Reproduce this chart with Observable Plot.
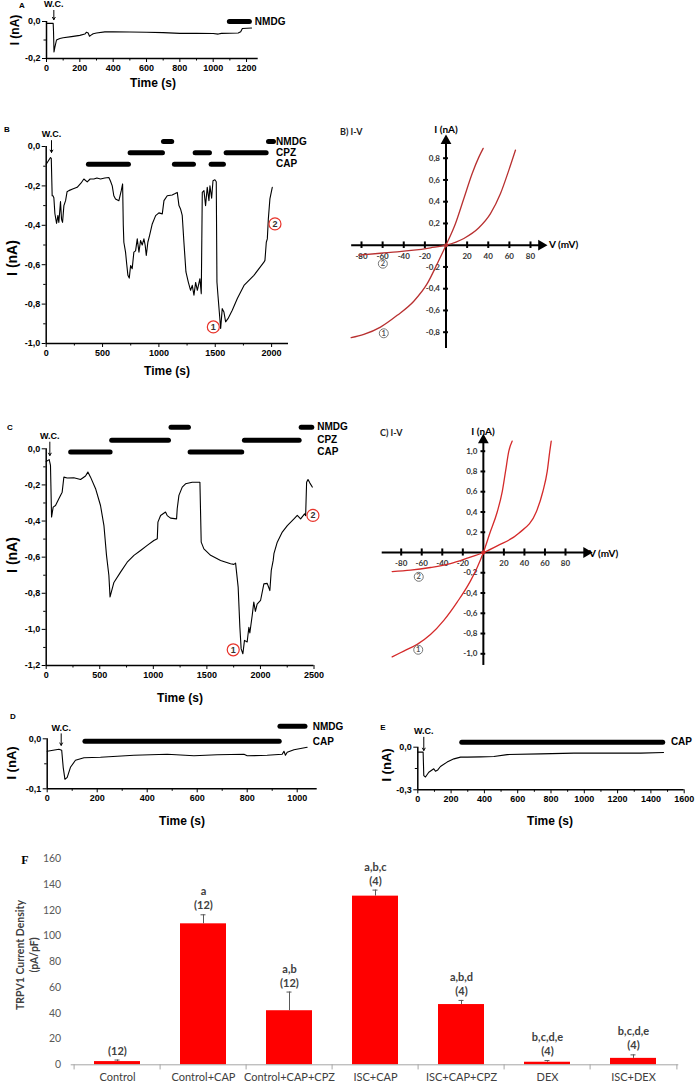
<!DOCTYPE html>
<html><head><meta charset="utf-8">
<script src="https://cdn.jsdelivr.net/npm/d3@7"></script>
<script src="https://cdn.jsdelivr.net/npm/@observablehq/plot@0.6"></script>
<style>
body{margin:0;background:#fff;}
#fig{position:relative;width:697px;height:1082px;overflow:hidden;font-family:"Liberation Sans",Arial,sans-serif;}
#fig svg{position:absolute;}
.lbl{position:absolute;white-space:nowrap;font-weight:bold;line-height:1;}
</style></head><body><div id="fig"></div>
<script>
// ---------- DATA ----------
const traceA = [[0,-0.01],[40,-0.01],[42,-0.05],[45,-0.165],[50,-0.14],[60,-0.10],[80,-0.092],[100,-0.088],[150,-0.082],[200,-0.075],[230,-0.068],[240,-0.058],[250,-0.062],[258,-0.08],[265,-0.075],[280,-0.066],[300,-0.062],[350,-0.056],[400,-0.055],[500,-0.057],[600,-0.058],[700,-0.06],[800,-0.064],[900,-0.064],[1000,-0.065],[1030,-0.068],[1050,-0.064],[1150,-0.062],[1165,-0.055],[1175,-0.038],[1230,-0.035]];
const barsA = [[1100,1220,0.0]];
const labelsA = [["NMDG",0.0]];

const traceB = [[0,-0.09],[38,-0.056],[45,-0.06],[53,-0.25],[60,-0.25],[68,-0.26],[77,-0.34],[92,-0.39],[104,-0.35],[112,-0.385],[120,-0.33],[127,-0.28],[136,-0.37],[145,-0.385],[157,-0.30],[172,-0.275],[185,-0.23],[201,-0.224],[240,-0.215],[275,-0.207],[310,-0.185],[334,-0.165],[364,-0.18],[390,-0.165],[423,-0.165],[450,-0.16],[482,-0.165],[520,-0.16],[556,-0.157],[570,-0.175],[586,-0.2],[600,-0.25],[615,-0.266],[645,-0.275],[666,-0.224],[678,-0.19],[684,-0.4],[689,-0.486],[704,-0.536],[715,-0.6],[725,-0.654],[737,-0.668],[749,-0.604],[763,-0.62],[778,-0.536],[793,-0.53],[808,-0.469],[823,-0.536],[837,-0.477],[852,-0.5],[867,-0.469],[878,-0.5],[888,-0.553],[902,-0.486],[917,-0.452],[941,-0.393],[971,-0.351],[1000,-0.337],[1030,-0.342],[1045,-0.275],[1074,-0.25],[1118,-0.246],[1140,-0.24],[1163,-0.233],[1178,-0.3],[1192,-0.317],[1207,-0.35],[1222,-0.486],[1240,-0.637],[1261,-0.688],[1281,-0.73],[1296,-0.705],[1311,-0.755],[1326,-0.69],[1341,-0.73],[1364,-0.671],[1376,-0.747],[1385,-0.233],[1400,-0.224],[1414,-0.3],[1429,-0.207],[1444,-0.275],[1453,-0.2],[1468,-0.262],[1480,-0.174],[1497,-0.169],[1509,-0.179],[1515,-0.688],[1524,-0.755],[1536,-0.84],[1548,-0.924],[1562,-0.823],[1577,-0.84],[1592,-0.89],[1613,-0.874],[1651,-0.831],[1696,-0.772],[1755,-0.705],[1843,-0.654],[1932,-0.587],[1941,-0.578],[1953,-0.486],[1962,-0.469],[1971,-0.368],[1985,-0.266],[2006,-0.207]];
const barsB = [[379,734,-0.09],[749,1036,-0.032],[1045,1118,0.025],[1142,1311,-0.09],[1326,1453,-0.032],[1468,1577,-0.09],[1601,1956,-0.032],[1977,2021,0.025]];
const labelsB = [["NMDG",0.025],["CPZ",-0.032],["CAP",-0.09]];
const marksB = [["1",1483,-0.916],["2",2030,-0.393]];

const traceC = [[0,-0.07],[28,-0.06],[40,-0.092],[50,-0.378],[65,-0.323],[87,-0.314],[118,-0.277],[149,-0.24],[165,-0.157],[196,-0.162],[258,-0.16],[321,-0.17],[367,-0.151],[389,-0.129],[414,-0.157],[461,-0.221],[507,-0.314],[539,-0.425],[563,-0.59],[585,-0.70],[596,-0.82],[632,-0.74],[694,-0.683],[756,-0.628],[819,-0.59],[881,-0.563],[943,-0.535],[1005,-0.508],[1037,-0.498],[1043,-0.406],[1068,-0.369],[1114,-0.35],[1130,-0.37],[1161,-0.384],[1217,-0.388],[1223,-0.332],[1239,-0.258],[1270,-0.212],[1301,-0.194],[1363,-0.185],[1435,-0.185],[1447,-0.517],[1472,-0.554],[1535,-0.59],[1628,-0.618],[1721,-0.637],[1752,-0.64],[1768,-0.633],[1792,-0.766],[1808,-0.988],[1820,-1.108],[1836,-1.135],[1851,-1.061],[1876,-1.07],[1892,-0.988],[1901,-1.02],[1923,-0.923],[1938,-0.849],[1953,-0.90],[1969,-0.86],[2001,-0.84],[2032,-0.748],[2063,-0.745],[2088,-0.785],[2101,-0.674],[2119,-0.618],[2126,-0.581],[2157,-0.517],[2204,-0.461],[2251,-0.425],[2313,-0.388],[2344,-0.369],[2375,-0.388],[2412,-0.36],[2422,-0.37],[2431,-0.185],[2444,-0.17],[2462,-0.19],[2484,-0.212]];
const barsC = [[233,601,-0.018],[616,1146,0.048],[1170,1332,0.12],[1348,1830,-0.018],[1855,2366,0.048],[2385,2484,0.12]];
const labelsC = [["NMDG",0.12],["CPZ",0.048],["CAP",-0.018]];
const marksC = [["1",1746,-1.113],["2",2490,-0.369]];

const traceD = [[0,-0.025],[47,-0.021],[58,-0.023],[64,-0.057],[71,-0.081],[80,-0.077],[93,-0.057],[113,-0.043],[147,-0.038],[213,-0.037],[347,-0.033],[480,-0.031],[587,-0.034],[680,-0.032],[787,-0.031],[800,-0.034],[880,-0.033],[940,-0.031],[947,-0.025],[953,-0.033],[960,-0.027],[987,-0.022],[1040,-0.017]];
const barsD = [[153,930,-0.005],[933,1033,0.025]];
const labelsD = [["NMDG",0.025],["CAP",-0.006]];

const traceE = [[0,-0.035],[32,-0.035],[36,-0.2],[46,-0.21],[66,-0.176],[96,-0.152],[106,-0.169],[120,-0.16],[136,-0.136],[176,-0.105],[217,-0.082],[257,-0.07],[297,-0.07],[377,-0.068],[457,-0.066],[537,-0.052],[738,-0.047],[938,-0.042],[1139,-0.042],[1339,-0.042],[1476,-0.037]];
const barsE = [[267,1474,0.035]];
const labelsE = [["CAP",0.035]];

// I-V curves [mV, nA]
const ivB1 = [[-89.8,-0.85],[-77.8,-0.82],[-62,-0.753],[-46.2,-0.645],[-30.5,-0.515],[-17.8,-0.354],[-8.3,-0.17],[0,0],[9,0.2],[16.9,0.43],[24.8,0.66],[31.1,0.81],[35.2,0.89]];
const ivB2 = [[-82.6,-0.092],[-62,-0.074],[-46.2,-0.062],[-30.5,-0.046],[-14.7,-0.024],[0,0],[16.9,0.062],[31.1,0.16],[42.1,0.29],[51.6,0.475],[59.5,0.69],[65.8,0.875]];
const ivBmarks = [["1",-58.9,-0.81],["2",-59.8,-0.17]];
const ivC1 = [[-88.8,-1.03],[-77.5,-0.973],[-64.4,-0.907],[-51.5,-0.81],[-38.5,-0.67],[-25.5,-0.49],[-12.5,-0.28],[-6,-0.148],[0,0],[6.3,0.19],[13.5,0.4],[18.4,0.6],[21.6,0.8],[24.8,1.0],[28.1,1.1]];
const ivC2 = [[-88.8,-0.188],[-70.9,-0.175],[-51.5,-0.148],[-32,-0.109],[-15.7,-0.056],[0,0],[13.5,0.066],[34.5,0.19],[51.5,0.4],[57.9,0.6],[62.2,0.8],[64.7,1.0],[66.1,1.1]];
const ivCmarks = [["1",-63.4,-0.96],["2",-62.9,-0.24]];
const ivXTicks = [-80,-60,-40,-20,20,40,60,80];
const ivBYTicks = [-0.8,-0.6,-0.4,-0.2,0.2,0.4,0.6,0.8];
const ivCYTicks = [-1.0,-0.8,-0.6,-0.4,-0.2,0.2,0.4,0.6,0.8,1.0];

// Panel F
const categories = ["Control","Control+CAP","Control+CAP+CPZ","ISC+CAP","ISC+CAP+CPZ","DEX","ISC+DEX"];
const means = [2.5,109.5,42,131,46.8,2,5];
const errors = [1.2,7,14.5,4.7,3.2,1.3,2.7];
const letters = ["","a","a,b","a,b,c","a,b,d","b,c,d,e","b,c,d,e"];
const counts = ["(12)","(12)","(12)","(4)","(4)","(4)","(4)"];
const fTicks = [0,20,40,60,80,100,120,140,160];

// ---------- DRAW ----------
const fig = document.getElementById("fig");
const fmt = d => (Math.abs(d) < 1e-9 ? "0,0" : d.toFixed(1).replace(".", ","));
function place(svg, left, top) { svg.style.left = left + "px"; svg.style.top = top + "px"; fig.appendChild(svg); }
function label(txt, x, y, o = {}) {
  const d = document.createElement("div"); d.className = "lbl"; d.textContent = txt;
  d.style.left = x + "px"; d.style.top = y + "px"; d.style.fontSize = (o.size || 12) + "px";
  if (o.family) d.style.fontFamily = o.family;
  if (o.weight) d.style.fontWeight = o.weight;
  if (o.color) d.style.color = o.color;
  const tx = o.anchor === "start" ? "0" : o.anchor === "end" ? "-100%" : "-50%";
  d.style.transform = `translate(${tx},-50%)` + (o.rot ? ` rotate(${o.rot}deg)` : "");
  fig.appendChild(d);
}
const baseStyle = {background: "transparent", overflow: "visible", fontFamily: "'Liberation Sans', Arial, sans-serif", fontWeight: "bold", fontSize: "9px", color: "black"};

function trace(c) {
  const marks = [
    Plot.axisX({ticks: c.xt, tickSize: 4, tickPadding: 2, label: null, tickFormat: d => String(d), fontSize: 9}),
    Plot.axisX({ticks: c.xm, tickSize: 2.5, label: null, tickFormat: () => ""}),
    Plot.axisY({ticks: c.yt, tickSize: 4, tickPadding: 2, label: null, tickFormat: fmt, fontSize: 9}),
    Plot.axisY({ticks: c.ym, tickSize: 2.5, label: null, tickFormat: () => ""}),
    Plot.ruleX([c.xd[0]], {strokeWidth: 1.5}),
    Plot.ruleY([c.yd[0]], {strokeWidth: 1.5}),
    Plot.line(c.data, {x: d => d[0], y: d => d[1], strokeWidth: 1.1}),
    Plot.ruleY(c.bars, {x1: d => d[0], x2: d => d[1], y: d => d[2], strokeWidth: 5, strokeLinecap: "round"}),
    Plot.text(c.labels, {x: c.lx, y: d => d[1], text: d => d[0], textAnchor: "start", fontSize: 10})
  ];
  if (c.wc) {
    marks.push(Plot.arrow([c.wc], {x1: d => d[0], x2: d => d[0], y1: d => d[1], y2: d => d[2], headLength: 4, strokeWidth: 1}));
    marks.push(Plot.text([c.wc], {x: d => d[0], y: d => d[1], dy: -6, text: () => "W.C.", fontSize: 9}));
  }
  if (c.marks) {
    marks.push(Plot.dot(c.marks, {x: d => d[1], y: d => d[2], r: 6, stroke: "#e8332a", fill: "white", strokeWidth: 1.2}));
    marks.push(Plot.text(c.marks, {x: d => d[1], y: d => d[2], text: d => d[0], fill: "#333", fontSize: 9}));
  }
  return Plot.plot({
    width: c.w, height: c.h, marginLeft: c.mL, marginRight: c.mR, marginTop: c.mT, marginBottom: c.mB,
    x: {domain: c.xd}, y: {domain: c.yd}, style: baseStyle, marks
  });
}

// A
place(trace({w: 280, h: 100, mL: 46, mR: 22.3, mT: 21, mB: 42, xd: [0, 1270], yd: [-0.2, 0],
  xt: d3.range(0, 1201, 200), xm: d3.range(100, 1201, 200), yt: [0, -0.2], ym: [-0.1],
  data: traceA, bars: barsA, labels: labelsA, lx: 1250, wc: [44, 0.06, 0.01]}), 0, 0);
// B
place(trace({w: 300, h: 250, mL: 45.7, mR: 12, mT: 21, mB: 32, xd: [0, 2150], yd: [-1.0, 0],
  xt: [0, 500, 1000, 1500, 2000], xm: [250, 750, 1250, 1750], yt: [0, -0.2, -0.4, -0.6, -0.8, -1.0], ym: [-0.1, -0.3, -0.5, -0.7, -0.9],
  data: traceB, bars: barsB, labels: labelsB, lx: 2040, wc: [47, 0.03, -0.03], marks: marksB}), 0, 125);
// C
place(trace({w: 340, h: 300, mL: 45.7, mR: 26.5, mT: 48.3, mB: 35, xd: [0, 2500], yd: [-1.2, 0],
  xt: [0, 500, 1000, 1500, 2000, 2500], xm: [250, 750, 1250, 1750, 2250], yt: [0, -0.2, -0.4, -0.6, -0.8, -1.0, -1.2], ym: [-0.1, -0.3, -0.5, -0.7, -0.9, -1.1],
  data: traceC, bars: barsC, labels: labelsC, lx: 2530, wc: [34, 0.037, -0.037], marks: marksC}), 0, 400);
// D
place(trace({w: 340, h: 140, mL: 46.7, mR: 23.3, mT: 48.3, mB: 41.7, xd: [0, 1080], yd: [-0.1, 0],
  xt: d3.range(0, 1001, 200), xm: d3.range(100, 1001, 200), yt: [0, -0.1], ym: [-0.05],
  data: traceD, bars: barsD, labels: labelsD, lx: 1062, wc: [56, 0.01, -0.013]}), 0, 690);
// E
place(trace({w: 357, h: 140, mL: 77.3, mR: 13.3, mT: 56.7, mB: 40.7, xd: [0, 1600], yd: [-0.3, 0],
  xt: d3.range(0, 1601, 200), xm: d3.range(100, 1600, 200), yt: [0, -0.3], ym: [-0.15],
  data: traceE, bars: barsE, labels: labelsE, lx: 1520, wc: [36, 0.07, -0.023]}), 340, 690);

// I-V panels
function iv(c) {
  const lf = d => d.toFixed(1).replace(".", ",");
  return Plot.plot({
    width: c.w, height: c.h, margin: 0,
    x: {domain: [-80, 80], range: c.xr, axis: null},
    y: {domain: c.yd, range: c.yr, axis: null},
    style: {...baseStyle, fontFamily: "Lato, 'Liberation Sans', sans-serif", fontSize: "8px"},
    marks: [
      Plot.ruleY([0], {x1: c.hx[0], x2: c.hx[1], strokeWidth: 2}),
      Plot.ruleX([0], {y1: c.vy[0], y2: c.vy[1], strokeWidth: 2}),
      Plot.dot([[c.hx[1], 0]], {x: d => d[0], y: d => d[1], symbol: "triangle", rotate: 90, r: 4, fill: "black"}),
      Plot.dot([[0, c.vy[1]]], {x: d => d[0], y: d => d[1], symbol: "triangle", r: 4, fill: "black"}),
      Plot.ruleX(ivXTicks, {x: d => d, y1: -c.tk, y2: c.tk, strokeWidth: 2}),
      Plot.ruleY(c.yt, {y: d => d, x1: -2.3, x2: 2.3, strokeWidth: 2}),
      Plot.text(ivXTicks, {x: d => d, y: 0, dy: 11, text: d => String(d), fill: "#333"}),
      Plot.text(c.yt, {x: 0, y: d => d, dx: -6, textAnchor: "end", text: lf, fill: "#333"}),
      Plot.line(c.c1, {x: d => d[0], y: d => d[1], curve: "monotone-x", stroke: c.col, strokeWidth: 1.3}),
      Plot.line(c.c2, {x: d => d[0], y: d => d[1], curve: "monotone-x", stroke: c.col, strokeWidth: 1.3}),
      Plot.dot([[0, 0]], {x: d => d[0], y: d => d[1], r: 2, fill: c.col}),
      Plot.dot(c.m, {x: d => d[1], y: d => d[2], r: 4.5, stroke: "#777", fill: "white", strokeWidth: 1}),
      Plot.text(c.m, {x: d => d[1], y: d => d[2], text: d => d[0], fill: "#555", fontSize: 7.5})
    ]
  });
}
place(iv({w: 240, h: 230, xr: [31, 200], yd: [-0.8, 0.8], yr: [206.7, 32.7],
  hx: [-89.3, 90.2], vy: [-0.95, 0.96], tk: 0.03, yt: ivBYTicks, c1: ivB1, c2: ivB2, m: ivBmarks, col: "#b83030"}), 330, 125);
place(iv({w: 240, h: 260, xr: [30.7, 195], yd: [-1.0, 1.0], yr: [233.3, 30.7],
  hx: [-98.5, 100.4], vy: [-1.115, 1.11], tk: 0.035, yt: ivCYTicks, c1: ivC1, c2: ivC2, m: ivCmarks, col: "#d42a2a"}), 370, 420);

// F
const stepF = (697 - 70.7 - 18.7) / 7;
const fData = categories.map((k, i) => ({k, m: means[i], e: errors[i], l: letters[i], n: counts[i]}));
place(Plot.plot({
  width: 697, height: 242, marginLeft: 70.7, marginRight: 18.7, marginTop: 18.3, marginBottom: 17.7,
  x: {domain: categories, paddingInner: 0.47, paddingOuter: 0.235}, y: {domain: [0, 160]},
  style: {background: "transparent", overflow: "visible", fontFamily: "Lato, 'Open Sans', sans-serif", fontSize: "10.5px", color: "#404040"},
  marks: [
    Plot.axisY({ticks: fTicks, tickSize: 0, tickPadding: 10, label: null, fill: "#595959", fontSize: 10.5}),
    Plot.barY(fData, {x: "k", y: "m", fill: "#ff0000"}),
    Plot.ruleX(fData, {x: "k", y1: "m", y2: d => d.m + d.e, stroke: "#595959", strokeWidth: 1}),
    Plot.tickY(fData, {x: "k", y: d => d.m + d.e, stroke: "#595959", insetLeft: 20.5, insetRight: 20.5}),
    Plot.ruleY([0], {stroke: "#a6a6a6", strokeWidth: 1}),
    Plot.ruleX(categories, {x: d => d, y1: 0, y2: -4, dx: -stepF / 2, stroke: "#a6a6a6"}),
    Plot.ruleX([categories[categories.length - 1]], {x: d => d, y1: 0, y2: -4, dx: stepF / 2, stroke: "#a6a6a6"}),
    Plot.axisX({tickSize: 0, tickPadding: 8, label: null, fill: "#404040", fontSize: 11}),
    Plot.text(fData, {x: "k", y: d => d.m + d.e, dy: -9, text: "n", fontWeight: "bold", fontSize: 11, fill: "#404040"}),
    Plot.text(fData, {x: "k", y: d => d.m + d.e, dy: -23, text: "l", fontWeight: "bold", fontSize: 11, fill: "#404040"})
  ]
}), 0, 840);

// ---------- TEXT LABELS ----------
label("A", 22, 6, {size: 8});
label("Time (s)", 153, 83, {size: 12});
label("I (nA)", 15, 30, {size: 12, rot: -90});
label("B", 7, 130, {size: 8});
label("Time (s)", 167, 371, {size: 12});
label("I (nA)", 12, 258, {size: 14, rot: -90});
label("B) I-V", 340, 131, {size: 9, anchor: "start", family: "Lato, sans-serif", color: "#222"});
label("I (nA)", 446, 129, {size: 10, family: "Lato, sans-serif"});
label("V (mV)", 549, 244, {size: 10, anchor: "start", family: "Lato, sans-serif"});
label("C", 10, 428, {size: 8});
label("Time (s)", 180, 698, {size: 12});
label("I (nA)", 12, 555, {size: 14, rot: -90});
label("C) I-V", 380, 432, {size: 9, anchor: "start", family: "Lato, sans-serif", color: "#222"});
label("I (nA)", 483, 431, {size: 10, family: "Lato, sans-serif"});
label("V (mV)", 589, 553, {size: 10, anchor: "start", family: "Lato, sans-serif"});
label("D", 13, 717, {size: 8});
label("Time (s)", 182, 821, {size: 12});
label("I (nA)", 11, 763, {size: 13, rot: -90});
label("E", 383, 728, {size: 8});
label("Time (s)", 550, 821, {size: 12});
label("I (nA)", 386, 765, {size: 13, rot: -90});
label("F", 25, 860, {size: 12, family: "'Liberation Serif', serif"});
label("TRPV1 Current Density", 20, 955, {size: 10.5, rot: -90, family: "Lato, sans-serif", color: "#404040"});
label("(pA/pF)", 34, 955, {size: 10.5, rot: -90, family: "Lato, sans-serif", color: "#404040"});
</script></body></html>
